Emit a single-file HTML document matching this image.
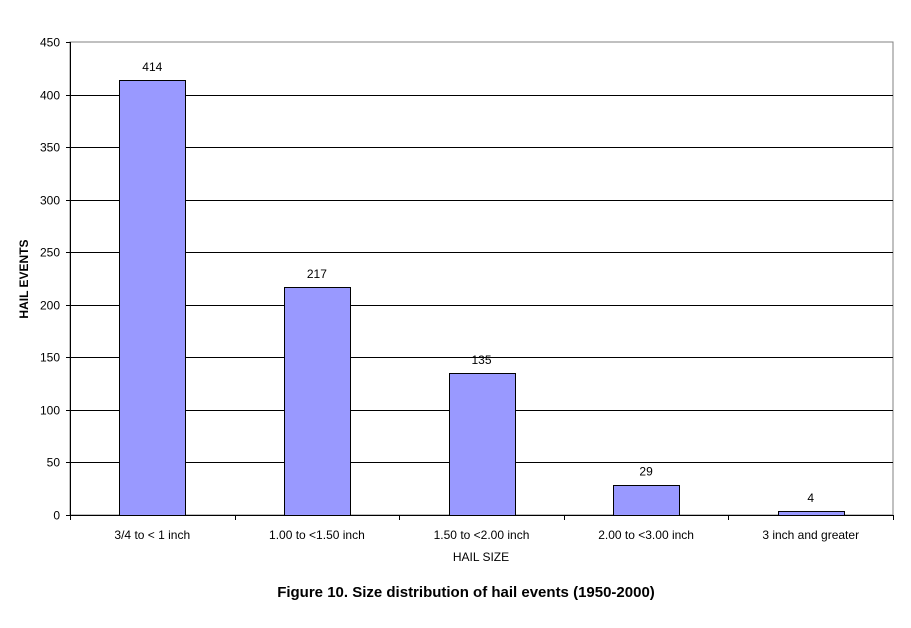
<!DOCTYPE html>
<html><head><meta charset="utf-8"><style>
body{margin:0;background:#fff;}
svg text{font-family:"Liberation Sans",Arial,sans-serif;}
</style></head><body>
<svg id="chart" width="911" height="623" viewBox="0 0 911 623" xmlns="http://www.w3.org/2000/svg">
<g id="plot"></g>
<text x="0" y="0" transform="translate(28,279) rotate(-90)" text-anchor="middle" font-size="12" font-weight="bold">HAIL EVENTS</text>
<text x="481" y="561" text-anchor="middle" font-size="12">HAIL SIZE</text>
<text x="466" y="597" text-anchor="middle" font-size="15" font-weight="bold">Figure 10. Size distribution of hail events (1950-2000)</text>
</svg>
<script>
const categories = ["3/4 to < 1 inch","1.00 to <1.50 inch","1.50 to <2.00 inch","2.00 to <3.00 inch","3 inch and greater"];
const values = [414, 217, 135, 29, 4];
const yTicks = [0,50,100,150,200,250,300,350,400,450];

const L=70,R=893,T=42,B=515,YMAX=450;
const ns="http://www.w3.org/2000/svg";
const g=document.getElementById('plot');
function y(v){return B-(v/YMAX)*(B-T);}
const bw=(R-L)/categories.length;
function xc(i){return L+bw*(i+0.5);}
function mk(tag,a){const e=document.createElementNS(ns,tag);for(const k in a)e.setAttribute(k,a[k]);g.appendChild(e);return e;}

// frame
let fr=mk('rect',{x:L,y:T,width:R-L,height:B-T,fill:'none',stroke:'#808080','stroke-width':1});


yTicks.forEach(t=>{
  const yy=Math.round(y(t))+0.5;
  if(t>0&&t<YMAX){
    const gl=mk('line',{x1:L,x2:R,y1:yy,y2:yy,stroke:'#000','stroke-width':1});
    
    
  }
  const tk=mk('line',{x1:L-4,x2:L,y1:yy,y2:yy,stroke:'#000'});
  
  
  const tl=mk('text',{x:L-10,y:yy+4,'text-anchor':'end','font-size':12});
  tl.textContent=t;
  
  
});
values.forEach((v,i)=>{
  const w=66, x0=Math.round(xc(i)-w/2)+0.5;
  const b=mk('rect',{x:x0,y:Math.round(y(v))+0.5,width:w,height:B-Math.round(y(v)),fill:'#9999ff',stroke:'#000','stroke-width':1});
  
  
  const lb=mk('text',{x:xc(i),y:y(v)-9,'text-anchor':'middle','font-size':12});
  lb.textContent=v;
  
  
  const cl=mk('text',{x:xc(i),y:539,'text-anchor':'middle','font-size':12});
  cl.textContent=categories[i];
  
  
});
for(let i=0;i<=categories.length;i++){
  const xx=Math.round(L+bw*i)+0.5;
  const tk=mk('line',{x1:xx,x2:xx,y1:B,y2:B+5,stroke:'#000'});
  
  
}
const ya=mk('line',{x1:L+0.5,x2:L+0.5,y1:T,y2:B,stroke:'#000'});


const xa=mk('line',{x1:L,x2:R,y1:B+0.5,y2:B+0.5,stroke:'#000'});


</script>
</body></html>
